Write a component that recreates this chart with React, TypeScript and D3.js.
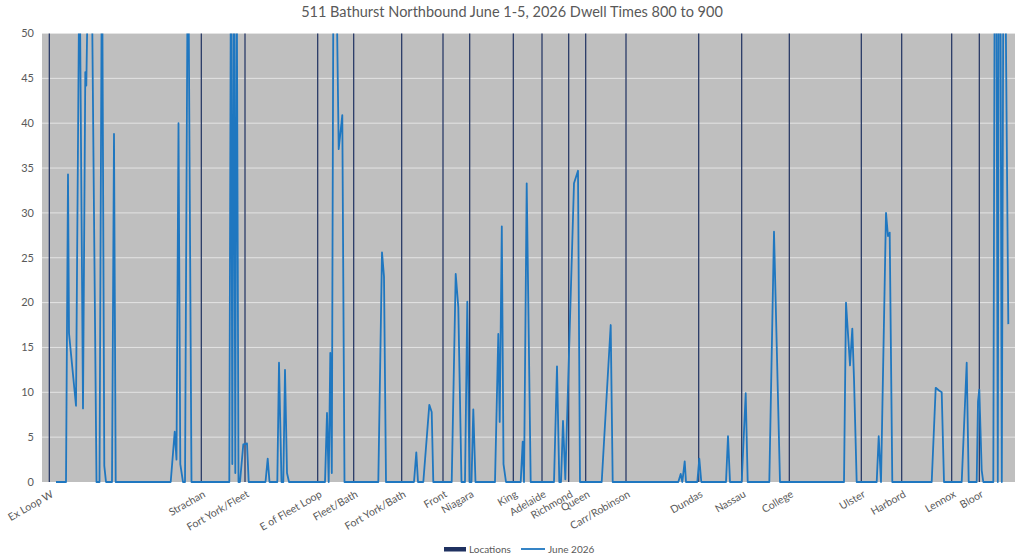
import React, { useEffect, useRef } from 'react';
import * as d3 from 'd3';

// stop locations along the route (position in route units) and their labels
const locationNames = [
  'Ex Loop W', 'Strachan', 'Fort York/Fleet', 'E of Fleet Loop', 'Fleet/Bath',
  'Fort York/Bath', 'Front', 'Niagara', 'King', 'Adelaide', 'Richmond', 'Queen',
  'Carr/Robinson', 'Dundas', 'Nassau', 'College', 'Ulster', 'Harbord', 'Lennox', 'Bloor',
];
const locationPos = [
  7.3, 159.3, 203, 275.7, 311.7, 359.7, 401, 427.7, 471.3, 500, 526.7, 543.7,
  584, 656.7, 699.7, 747.3, 819.3, 859.7, 909.7, 937.3,
];
const locationValue = 50;

// June 2026 dwell times (seconds) at positions along the route
const routePos = [
  14, 24, 26, 27, 34, 37.5, 41, 43.3, 44.3, 46.5, 49.5, 54.5, 57.5, 60, 62.3, 64,
  70, 72, 73.7, 128.7, 132.7, 134.5, 136.5, 138.3, 141, 143, 146, 149.5,
  187.3, 189, 190.3, 191.8, 193.3, 194.6, 196.5, 198, 201.3, 205, 206.7,
  223.5, 225.7, 227.5, 235.3, 237, 239.5, 241.3, 243, 245, 247,
  283, 285, 286.7, 288.3, 289.8, 291.5, 294, 296.7, 300.3, 302.5,
  336.3, 340, 342, 344, 372, 374.3, 376, 381.3, 387.3, 389.7, 391.3,
  409.7, 413.7, 416.3, 419.5, 423, 425.3, 427.5, 429.5, 431.3, 433.5,
  453, 456.3, 457.7, 459.8, 461.5, 464, 478.7, 480.7, 482, 484.7, 488.7,
  512, 515, 517.3, 519, 521, 523.3, 532, 536, 538, 559.7, 568.7, 570.7,
  636.3, 638.7, 640.3, 642.7, 644, 655.3, 657.3, 659.3, 684, 686, 688,
  699.7, 703.7, 705.7, 727.3, 732, 738, 802, 804, 808, 810.3, 812, 814.7,
  834.7, 836.7, 839, 844, 846, 847.7, 850.3, 889.7, 893.7, 897, 899.7, 902,
  919.7, 924.7, 926.7, 934.7, 936, 937.3, 939.7, 941.3,
  951.3, 952.8, 954.3, 955.8, 956.8, 958.3, 959.8, 961.5, 963, 966.3,
];
const dwell = [
  0, 0, 34.3, 16.6, 8.5, 60, 8.2, 45.7, 44.2, 60, 60, 0, 0, 62, 1.8, 0,
  0, 38.8, 0, 0, 5.6, 2.5, 40, 2, 0, 0, 65, 0,
  0, 62, 2, 62, 1, 62, 0, 0, 4.2, 4.3, 0,
  0, 2.6, 0, 0, 13.3, 0, 0, 12.5, 1, 0,
  0, 7.7, 0, 14.4, 1, 60, 60, 37.1, 40.9, 0,
  0, 25.6, 22.9, 0, 0, 3.3, 0, 0, 8.6, 7.8, 0,
  0, 23.2, 19.5, 0, 0, 20.1, 0, 0, 8.1, 0,
  0, 16.5, 6.7, 28.5, 2, 0, 0, 4.5, 0, 33.3, 0,
  0, 12.9, 0, 0, 6.8, 0.3, 33.3, 34.7, 0, 0, 17.5, 0,
  0, 0.9, 0, 2.3, 0, 0, 2.6, 0, 0, 5.1, 0,
  0, 9.9, 0, 0, 27.9, 0, 0, 20, 13, 17.1, 11.5, 0,
  0, 5.1, 0, 30, 27.4, 27.8, 0, 0, 10.5, 10.2, 10, 0,
  0, 13.3, 0, 0, 9, 10.3, 1.3, 0,
  0, 62, 62, 0, 62, 62, 0, 62, 62, 17.6,
];

const yTicks = [0, 5, 10, 15, 20, 25, 30, 35, 40, 45, 50];

const title = '511 Bathurst Northbound June 1-5, 2026 Dwell Times 800 to 900';
const seriesNames = ['Locations', 'June 2026'];

const W = 1024;
const H = 557;
const FONT = 'Lato, "Open Sans", sans-serif';
const TEXT = '#595959';
const NAVY = '#1f3160';
const BLUE = '#1f77c0';

const App: React.FC = () => {
  const svgRef = useRef<SVGSVGElement | null>(null);

  useEffect(() => {
    const svg = d3.select(svgRef.current);
    svg.selectAll('*').remove();

    const margin = { top: 33.5, right: 9, bottom: 75, left: 42 };

    const x = d3.scaleLinear().domain([0, 973]).range([margin.left, W - margin.right]);
    const y = d3.scaleLinear().domain([0, 50]).range([H - margin.bottom, margin.top]);

    // plot area
    svg
      .append('rect')
      .attr('x', margin.left)
      .attr('y', margin.top)
      .attr('width', W - margin.left - margin.right)
      .attr('height', y(0) - margin.top)
      .attr('fill', '#bfbfbf');

    // gridlines
    svg
      .append('g')
      .selectAll('line')
      .data(yTicks.slice(1))
      .join('line')
      .attr('x1', margin.left)
      .attr('x2', W - margin.right)
      .attr('y1', (d) => y(d))
      .attr('y2', (d) => y(d))
      .attr('stroke', '#e4e4e4')
      .attr('stroke-width', 1);

    // y tick labels
    svg
      .append('g')
      .selectAll('text')
      .data(yTicks)
      .join('text')
      .attr('x', margin.left - 8)
      .attr('y', (d) => y(d))
      .attr('dy', '0.35em')
      .attr('text-anchor', 'end')
      .attr('font-family', FONT)
      .attr('font-size', 11)
      .attr('fill', TEXT)
      .text((d) => d);

    svg.append('defs')
      .append('clipPath')
      .attr('id', 'plotClip')
      .append('rect')
      .attr('x', margin.left)
      .attr('y', margin.top)
      .attr('width', W - margin.left - margin.right)
      .attr('height', y(0) - margin.top + 2);

    // locations (thin columns)
    svg
      .append('g')
      .selectAll('rect')
      .data(locationPos)
      .join('rect')
      .attr('x', (d) => x(d) - 0.6)
      .attr('y', y(locationValue))
      .attr('width', 1.2)
      .attr('height', y(0) - y(locationValue))
      .attr('fill', NAVY);

    // dwell line
    const pts = routePos.map((p, i) => [p, dwell[i]] as [number, number]);
    const line = d3
      .line<[number, number]>()
      .x((d) => x(d[0]))
      .y((d) => y(d[1]));

    svg
      .append('path')
      .datum(pts)
      .attr('clip-path', 'url(#plotClip)')
      .attr('fill', 'none')
      .attr('stroke', BLUE)
      .attr('stroke-width', 1.8)
      .attr('stroke-linejoin', 'round')
      .attr('d', line);

    // x labels
    svg
      .append('g')
      .selectAll('text')
      .data(locationNames)
      .join('text')
      .attr('transform', (_, i) => `translate(${x(locationPos[i]) + 3},${y(0) + 11}) rotate(-30)`)
      .attr('text-anchor', 'end')
      .attr('dy', '0.35em')
      .attr('font-family', FONT)
      .attr('font-size', 10.5)
      .attr('fill', TEXT)
      .text((d) => d);

    // title
    svg
      .append('text')
      .attr('x', W / 2)
      .attr('y', 17)
      .attr('text-anchor', 'middle')
      .attr('font-family', FONT)
      .attr('font-size', 14.5)
      .attr('fill', TEXT)
      .text(title);

    // legend
    const lg = svg.append('g').attr('font-family', FONT).attr('font-size', 10).attr('fill', TEXT);
    lg.append('rect').attr('x', 444).attr('y', 547).attr('width', 22).attr('height', 4.5).attr('fill', NAVY);
    lg.append('text').attr('x', 469).attr('y', 549).attr('dy', '0.35em').text(seriesNames[0]);
    lg.append('line').attr('x1', 521).attr('x2', 545).attr('y1', 549).attr('y2', 549)
      .attr('stroke', BLUE).attr('stroke-width', 1.8);
    lg.append('text').attr('x', 548).attr('y', 549).attr('dy', '0.35em').text(seriesNames[1]);
  }, []);

  return (
    <svg
      ref={svgRef}
      width={W}
      height={H}
      style={{ position: 'absolute', left: 0, top: 0, background: '#fff' }}
    />
  );
};

export default App;
